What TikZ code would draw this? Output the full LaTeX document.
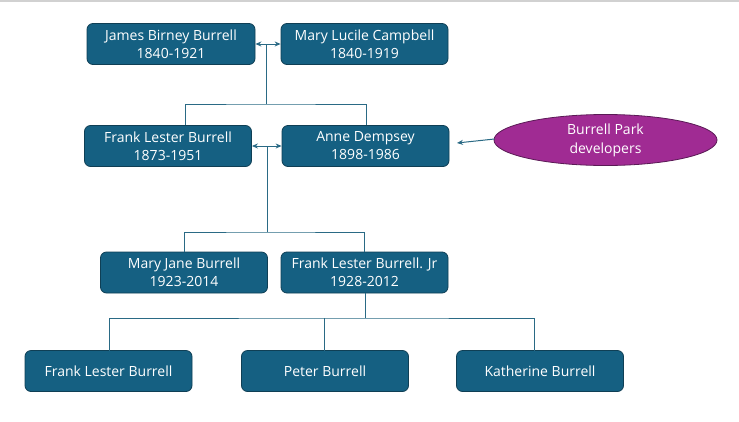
\documentclass[tikz,border=0pt]{standalone}
\usepackage{fontspec}
\setmainfont{Open Sans}
\usetikzlibrary{shapes.geometric,arrows.meta}
\definecolor{boxfill}{HTML}{156082}
\definecolor{boxedge}{HTML}{0F3F55}
\definecolor{linecol}{HTML}{2A6A85}
\definecolor{ovalfill}{HTML}{A02B93}
\definecolor{ovaledge}{HTML}{5A1A55}
\newcommand{\lbl}[1]{\raisebox{0.8pt}{#1}}
\tikzset{
  person/.style={draw=boxedge,line width=0.8pt,fill=boxfill,rounded corners=6pt,text=white,
    minimum width=167pt,minimum height=41pt,inner sep=0pt,align=center,font=\fontsize{14pt}{18pt}\selectfont},
  oval/.style={ellipse,draw=ovaledge,line width=0.8pt,fill=ovalfill,text=white,
    minimum width=223pt,minimum height=51pt,inner sep=0pt,align=center,font=\fontsize{14pt}{19pt}\selectfont},
  link/.style={draw=linecol,line width=1pt},
  tip/.style={link,{Stealth[length=6pt,width=5pt]}-{Stealth[length=6pt,width=5pt]}},
  onetip/.style={link,-{Stealth[length=6pt,width=5pt]}}
}
\begin{document}
\begin{tikzpicture}[x=1pt,y=-1pt]
\useasboundingbox (0,0) rectangle (739,421);
\fill[white] (0,0) rectangle (739,421);
\fill[black!18] (0,0) rectangle (739,1.6);
\node[person,minimum width=168pt] (jb) at (171,44) {James Birney Burrell\\1840-1921};
\node[person] (ml) at (364.5,44) {Mary Lucile Campbell\\1840-1919};
\node[person] (fl) at (168,146) {Frank Lester Burrell\\1873-1951};
\node[person] (ad) at (365.5,146) {Anne Dempsey\\1898-1986};
\node[oval] (bp) at (605.5,140) {Burrell Park\\developers};
\node[person] (mj) at (184,272.5) {Mary Jane Burrell\\1923-2014};
\node[person] (jr) at (364.5,272.5) {Frank Lester Burrell. Jr\\1928-2012};
\node[person] (c1) at (108.5,371) {Frank Lester Burrell};
\node[person] (c2) at (325,371) {Peter Burrell};
\node[person] (c3) at (540,371) {Katherine Burrell};
\coordinate (a1) at (266,44);
\coordinate (b1) at (266,104);
\coordinate (a2) at (267,146);
\coordinate (b2) at (267,232);
\coordinate (b3) at (365,318);
\coordinate (t1) at (185,125);
\coordinate (t2) at (366,125);
\coordinate (t3) at (184,252);
\coordinate (t4) at (364,252);
\coordinate (t5) at (109,351);
\coordinate (t6) at (324,351);
\coordinate (t7) at (534,351);
\coordinate (f1) at (365,293);
\coordinate (e1) at (494.5,139);
\coordinate (e2) at (457,143);
\draw[tip] (jb.east) -- (ml.west);
\draw[tip] (fl.east) -- (ad.west);
\draw[link] (a1) -- (b1);
\draw[link] (t1) |- (b1) -| (t2);
\draw[link] (a2) -- (b2);
\draw[link] (t3) |- (b2) -| (t4);
\draw[link] (f1) -- (b3);
\draw[link] (t5) |- (b3) -| (t7);
\draw[link] (t6) -- (t6 |- b3);
\draw[onetip] (e1) -- (e2);
\end{tikzpicture}
\end{document}
